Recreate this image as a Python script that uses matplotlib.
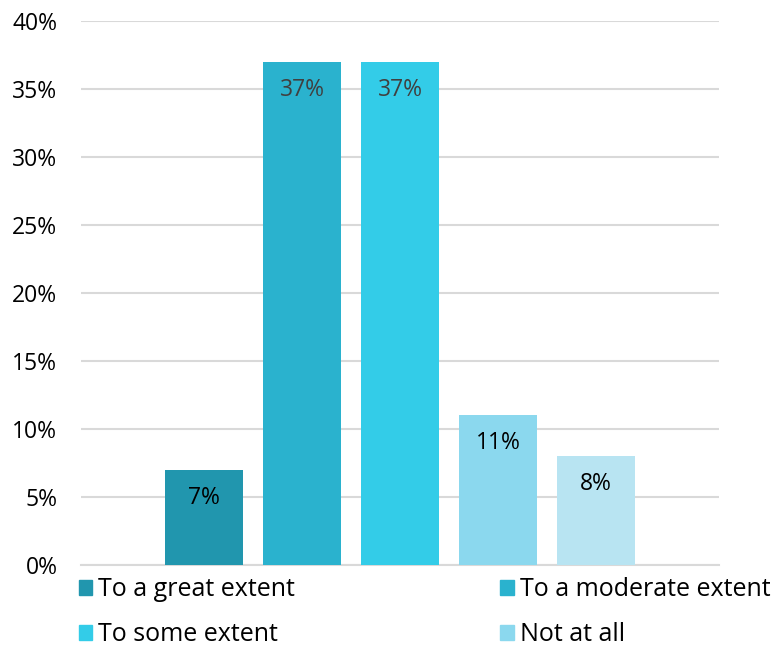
import matplotlib
matplotlib.use("Agg")
import matplotlib.patches as mpatches
import matplotlib.pyplot as plt
from matplotlib.ticker import FuncFormatter, MultipleLocator

# Data
labels = ["To a great extent", "To a moderate extent", "To some extent",
          "Not at all", "Don't know"]
values = [7, 37, 37, 11, 8]
colors = ["#2196AE", "#2AB2CE", "#33CCE8", "#8BD8EE", "#B8E4F2"]
label_colors = ["#000000", "#404040", "#404040", "#000000", "#000000"]

plt.rcParams["font.family"] = ["Open Sans", "DejaVu Sans"]

fig = plt.figure(figsize=(7.77, 6.45), dpi=100)
ax = fig.add_axes([81 / 777, 1 - 565 / 645, (719 - 81) / 777, (565 - 21) / 645])

x = list(range(len(values)))
ax.bar(x, values, width=0.8, color=colors, zorder=3)

for xi, v, c in zip(x, values, label_colors):
    ax.annotate(f"{v}%", (xi, v), xytext=(0, -20), textcoords="offset points",
                ha="center", va="center", fontsize=16.5, color=c, zorder=4)

ax.set_xlim(-1.257, 5.257)
ax.set_ylim(0, 40)
ax.yaxis.set_major_locator(MultipleLocator(5))
ax.yaxis.set_major_formatter(FuncFormatter(lambda v, _: f"{v:.0f}%"))
ax.grid(axis="y", color="#D9D9D9", linewidth=1.5, zorder=0)
ax.set_xticks([])
ax.tick_params(axis="y", length=0, pad=17, labelsize=16.5, labelcolor="#000000")
for s in ["top", "right", "left"]:
    ax.spines[s].set_visible(False)
ax.spines["bottom"].set_color("#D9D9D9")
ax.spines["bottom"].set_linewidth(1.5)

# Legend (only four entries fit in the frame), filled row by row
order = [0, 2, 1, 3]
handles = [mpatches.Patch(color=colors[i], label=labels[i]) for i in order]
fig.legend(handles=handles, ncol=2, loc="upper left",
           bbox_to_anchor=(66 / 777, 1 - 565 / 645), frameon=False,
           borderpad=0, fontsize=18, handlelength=0.55, handleheight=0.55,
           handletextpad=0.25, columnspacing=8.2, labelspacing=0.78)

fig.savefig("out.png", dpi=100)
